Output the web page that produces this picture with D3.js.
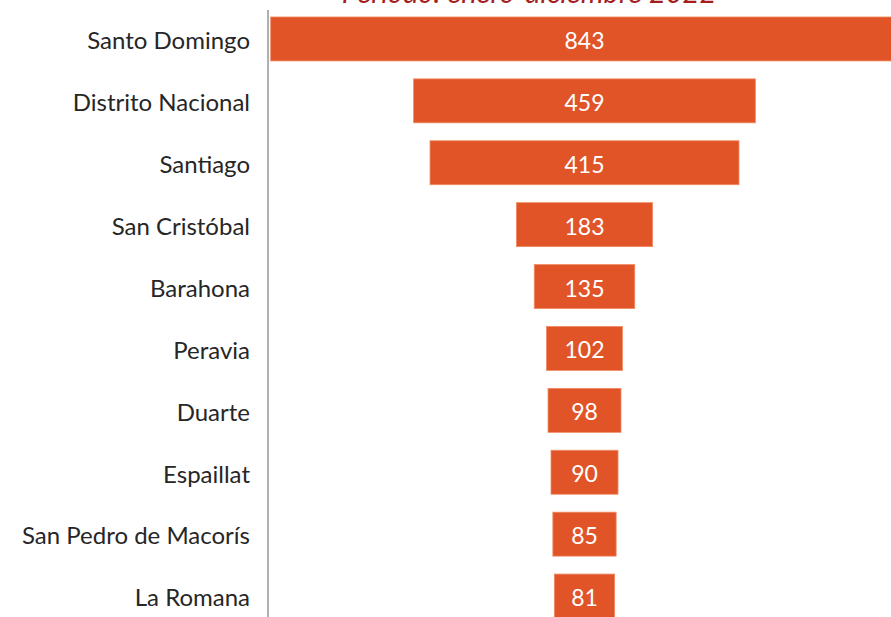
<!DOCTYPE html>
<html>
<head>
<meta charset="utf-8">
<script src="https://cdn.jsdelivr.net/npm/d3@7"></script>
<style>
  html, body { margin: 0; padding: 0; background: #ffffff; overflow: hidden; }
  svg { display: block; }
</style>
</head>
<body>
<svg id="chart" width="891" height="617"></svg>
<script>
const categories = ["Santo Domingo", "Distrito Nacional", "Santiago", "San Cristóbal", "Barahona",
  "Peravia", "Duarte", "Espaillat", "San Pedro de Macorís", "La Romana"];
const values = [843, 459, 415, 183, 135, 102, 98, 90, 85, 81];
const subtitle = "Período: enero-diciembre 2022";

const svg = d3.select("#chart");
const W = 891, H = 617;
const centerX = 584.5;
const fontFamily = "Lato, 'Open Sans', sans-serif";

const y = d3.scaleBand()
  .domain(categories)
  .range([8, 627])
  .paddingInner(0.29)
  .paddingOuter(0.145);

const w = d3.scaleLinear()
  .domain([0, d3.max(values)])
  .range([0, 627.6]);

const data = categories.map((c, i) => ({ name: c, value: values[i] }));

// subtitle (cut off at top, as in the reference)
svg.append("text")
  .attr("x", 529)
  .attr("y", 3)
  .attr("text-anchor", "middle")
  .attr("font-family", fontFamily)
  .attr("font-style", "italic")
  .attr("font-size", 29)
  .attr("fill", "#A31F1F")
  .text(subtitle);

// bars
svg.append("g").selectAll("rect")
  .data(data)
  .join("rect")
  .attr("x", d => centerX - w(d.value) / 2)
  .attr("y", d => y(d.name))
  .attr("width", d => w(d.value))
  .attr("height", y.bandwidth())
  .attr("fill", "#E05427")
  .attr("stroke", "#F08A62")
  .attr("stroke-width", 0.8);

// value labels
svg.append("g").selectAll("text")
  .data(data)
  .join("text")
  .attr("x", centerX)
  .attr("y", d => y(d.name) + y.bandwidth() / 2)
  .attr("dy", "0.435em")
  .attr("text-anchor", "middle")
  .attr("font-family", fontFamily)
  .attr("font-size", 23)
  .attr("fill", "#ffffff")
  .text(d => d.value);

// category axis
const axis = d3.axisLeft(y).tickSize(0).tickPadding(18);
const ag = svg.append("g")
  .attr("transform", "translate(268,0)")
  .call(axis);
ag.select(".domain")
  .attr("d", `M0,10V${H}`)
  .attr("stroke", "#b0b0b0")
  .attr("stroke-width", 2);
ag.selectAll(".tick text")
  .attr("font-family", fontFamily)
  .attr("font-size", 24)
  .attr("dy", "0.43em")
  .attr("fill", "#262626");
</script>
</body>
</html>
